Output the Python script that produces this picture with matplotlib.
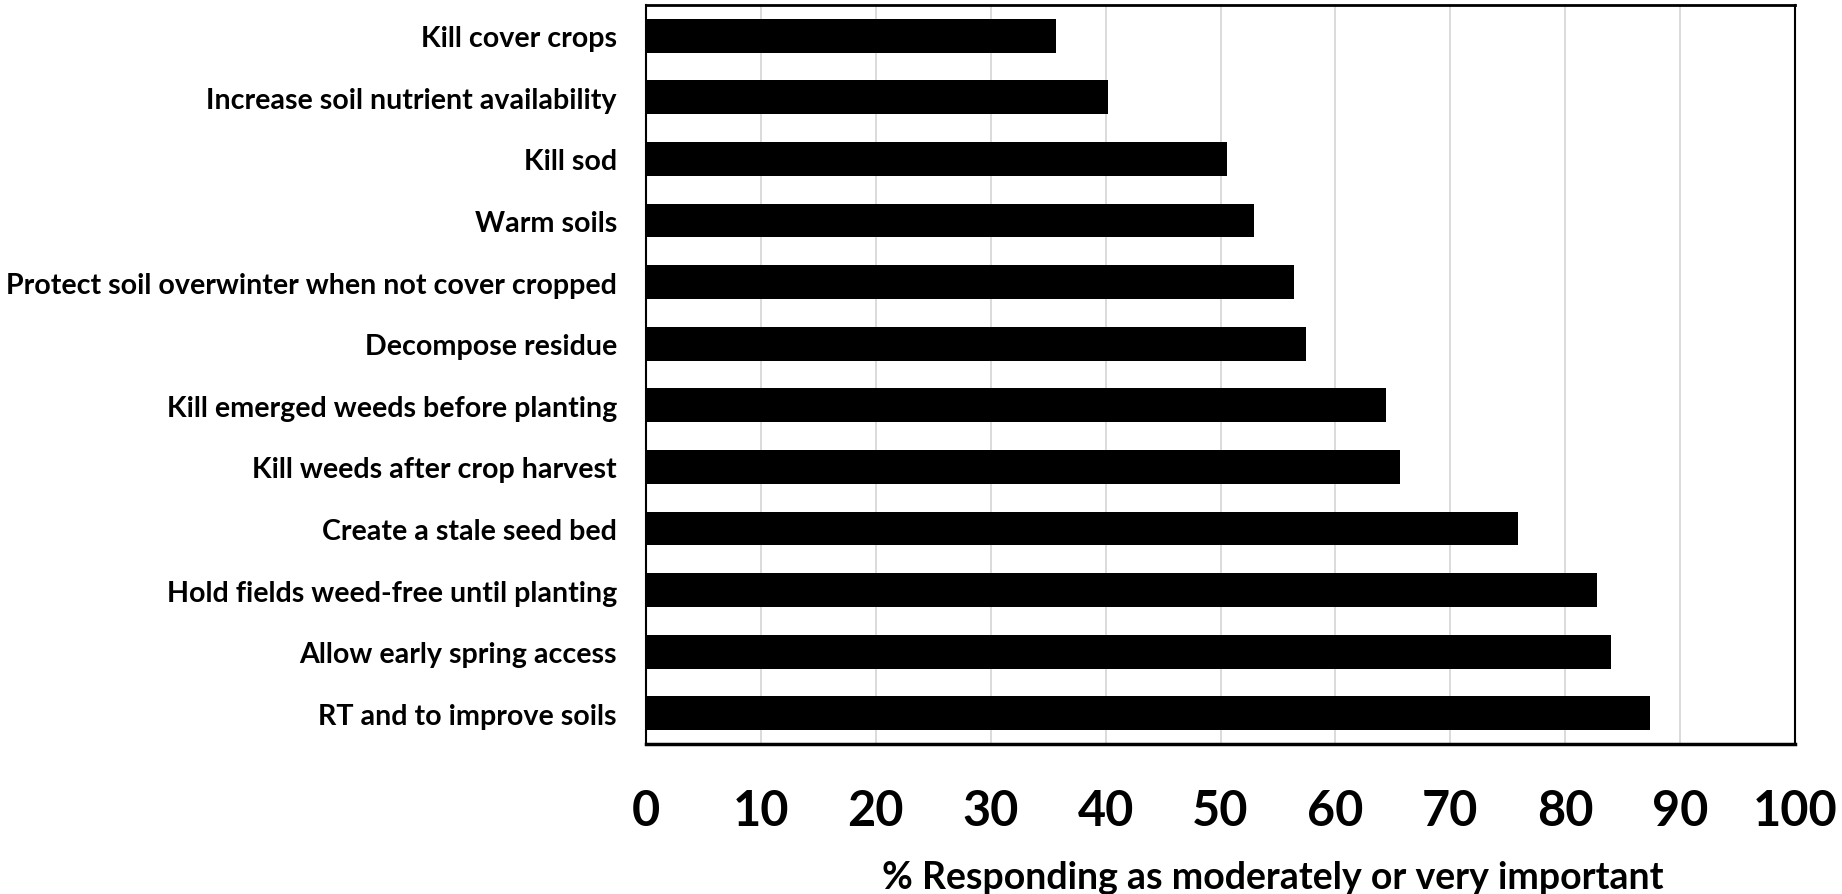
import matplotlib
matplotlib.use("Agg")
import matplotlib.pyplot as plt

categories = [
    "Kill cover crops",
    "Increase soil nutrient availability",
    "Kill sod",
    "Warm soils",
    "Protect soil overwinter when not cover cropped",
    "Decompose residue",
    "Kill emerged weeds before planting",
    "Kill weeds after crop harvest",
    "Create a stale seed bed",
    "Hold fields weed-free until planting",
    "Allow early spring access",
    "RT and to improve soils",
]
values = [35.7, 40.2, 50.6, 52.9, 56.4, 57.4, 64.4, 65.6, 75.9, 82.8, 84.0, 87.4]
xticks = list(range(0, 101, 10))
xlabel = "% Responding as moderately or very important"

plt.rcParams['font.family'] = ['Lato', 'DejaVu Sans']

fig = plt.figure(figsize=(18.42, 8.95), dpi=100)
ax = fig.add_axes([646/1842, 1-745/895, (1795-646)/1842, (745-6)/895])

ypos = list(range(len(categories)))
ax.barh(ypos, values, height=0.55, color='black', zorder=3)
ax.set_ylim(len(categories)-0.5, -0.5)
ax.set_xlim(0, 100)
ax.set_yticks(ypos)
ax.set_yticklabels(categories, fontsize=20.6, fontweight='bold')
ax.set_xticks(xticks)
ax.set_xticklabels([str(t) for t in xticks], fontsize=35, fontweight='bold')
ax.tick_params(axis='y', length=0, pad=21)
ax.tick_params(axis='x', length=0, pad=32)
ax.grid(axis='x', color='#d4d4d4', linewidth=1.2, zorder=0)
ax.set_axisbelow(True)
for s in ax.spines.values():
    s.set_color('black')
    s.set_linewidth(1.5)
ax.spines['bottom'].set_linewidth(2.5)
ax.spines['top'].set_linewidth(2)

ax.set_xlabel(xlabel, fontsize=27, fontweight='bold')
ax.xaxis.set_label_coords((1273-646)/(1795-646), -(878-745)/(745-6))
ax.xaxis.label.set_va('center')

fig.savefig("out.png", dpi=100, facecolor='white')
